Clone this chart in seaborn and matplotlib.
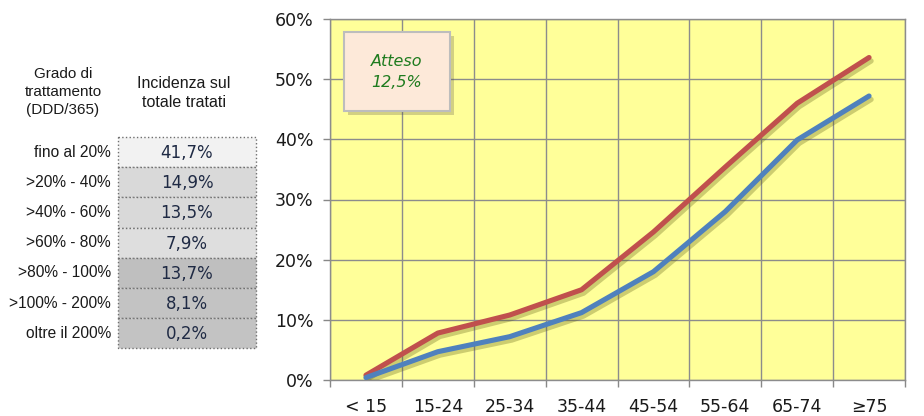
import matplotlib

matplotlib.use("Agg")
import matplotlib.pyplot as plt  # noqa: E402
import matplotlib.patheffects as pe  # noqa: E402
import pandas as pd  # noqa: E402
import seaborn as sns  # noqa: E402
from matplotlib.patches import Rectangle  # noqa: E402

# ---------------------------------------------------------------------------
# Data
# ---------------------------------------------------------------------------
age_groups = ["< 15", "15-24", "25-34", "35-44", "45-54", "55-64", "65-74", "\u226575"]
red_series = [0.8, 7.8, 10.8, 15.0, 24.6, 35.4, 46.0, 53.6]
blue_series = [0.4, 4.7, 7.2, 11.2, 18.0, 28.0, 39.9, 47.2]
y_ticks = [0, 10, 20, 30, 40, 50, 60]

grade_labels = ["fino al 20%", ">20% - 40%", ">40% - 60%", ">60% - 80%",
                ">80% - 100%", ">100% - 200%", "oltre il 200%"]
grade_values = ["41,7%", "14,9%", "13,5%", "7,9%", "13,7%", "8,1%", "0,2%"]
cell_colors = ["#F2F2F2", "#D9D9D9", "#D9D9D9", "#DEDEDE",
               "#BFBFBF", "#C3C3C3", "#C3C3C3"]
expected_text = "Atteso\n12,5%"

sns.set_theme(style="white")
plt.rcParams["font.family"] = ["DejaVu Sans"]

W, H = 924, 416
fig = plt.figure(figsize=(W / 100, H / 100), dpi=100)

# ---------------------------------------------------------------------------
# Line chart
# ---------------------------------------------------------------------------
ax = fig.add_axes([330 / W, 1 - 380 / H, 575 / W, 361 / H])
ax.set_facecolor("#FFFF99")

df = pd.DataFrame({
    "x": list(range(len(age_groups))) * 2,
    "val": red_series + blue_series,
    "serie": ["red"] * len(red_series) + ["blue"] * len(blue_series),
})
sns.lineplot(data=df, x="x", y="val", hue="serie",
             palette={"red": "#C0504D", "blue": "#4F81BD"},
             linewidth=3.7, legend=False, ax=ax, zorder=3)
for line in ax.get_lines():
    line.set_solid_capstyle("round")
    line.set_solid_joinstyle("round")
    line.set_path_effects([
        pe.SimpleLineShadow(offset=(1.5, -2.5), shadow_color="#5A5A10", alpha=0.3),
        pe.Normal(),
    ])

ax.set_xlim(-0.5, len(age_groups) - 0.5)
ax.set_ylim(0, 60)
ax.set_xticks(range(len(age_groups)))
ax.set_xticklabels(age_groups)
ax.set_xticks([i - 0.5 for i in range(len(age_groups) + 1)], minor=True)
ax.set_yticks(y_ticks)
ax.set_yticklabels([f"{v}%" for v in y_ticks])
ax.tick_params(axis="x", which="major", length=0, pad=13, labelsize=12.5,
               labelcolor="#1A1A1A")
ax.tick_params(axis="x", which="minor", length=5, width=1, color="#888888",
               direction="out", bottom=True)
ax.tick_params(axis="y", which="major", length=5, width=1, color="#888888",
               direction="out", left=True, pad=7, labelsize=12.5,
               labelcolor="#1A1A1A")
ax.grid(False)
ax.grid(True, axis="y", which="major", color="#8C8C8C", linewidth=1)
ax.grid(True, axis="x", which="minor", color="#8C8C8C", linewidth=1)
ax.set_axisbelow(True)
for s in ax.spines.values():
    s.set_color("#8C8C8C")
    s.set_linewidth(1)
ax.set_xlabel("")
ax.set_ylabel("")

# ---------------------------------------------------------------------------
# Overlay (pixel coordinates) for the "Atteso" box and the table
# ---------------------------------------------------------------------------
ov = fig.add_axes([0, 0, 1, 1], facecolor="none")
ov.set_xlim(0, W)
ov.set_ylim(H, 0)
ov.axis("off")

box = Rectangle((344, 32), 106, 79, facecolor="#FDE9D9", edgecolor="#BDBDBD",
                linewidth=1.5, zorder=5)
box.set_path_effects([pe.SimplePatchShadow(offset=(3, -3), alpha=0.25),
                      pe.Normal()])
ov.add_patch(box)
ov.text(397, 72, expected_text, ha="center", va="center",
        color="#1E7B1E", fontsize=11.5, style="italic", linespacing=1.5,
        zorder=6)

ov.text(63, 92, "Grado di\ntrattamento\n(DDD/365)", ha="center", va="center",
        fontsize=11, family="Liberation Sans", color="#1A1A1A", linespacing=1.35)
ov.text(184, 93, "Incidenza sul\ntotale tratati", ha="center", va="center",
        fontsize=11.5, family="Liberation Sans", color="#1A1A1A", linespacing=1.3)

top, row_h, left, right = 137, 30.2, 118, 256
for i, (lab, val, col) in enumerate(zip(grade_labels, grade_values, cell_colors)):
    y0 = top + i * row_h
    ov.add_patch(Rectangle((left, y0), right - left, row_h, facecolor=col,
                           edgecolor="#6F6F6F", linewidth=1.0, linestyle=":"))
    ov.text(left - 7, y0 + row_h / 2, lab, ha="right", va="center",
            fontsize=11.2, family="Liberation Sans", color="#1A1A1A")
    ov.text((left + right) / 2, y0 + row_h / 2 + 1, val, ha="center",
            va="center", fontsize=12, color="#1F2A44")

fig.savefig("out.png", dpi=100)
